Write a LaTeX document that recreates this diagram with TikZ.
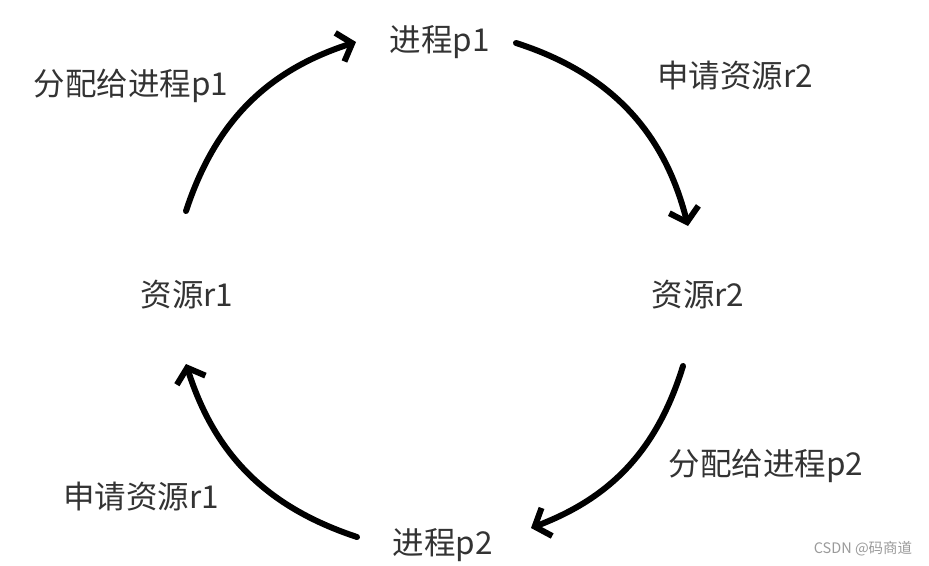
\documentclass[tikz,border=0pt]{standalone}
\usepackage{fontspec}
\usetikzlibrary{arrows.meta}
\newfontfamily\cjk{Noto Sans CJK SC}
\definecolor{txtgray}{HTML}{333333}
\definecolor{markgray}{HTML}{9A9A9A}

\begin{document}
\begin{tikzpicture}[x=1pt, y=-1pt,
    lnode/.style={text=txtgray, font=\cjk\fontsize{31.5}{32}\selectfont, inner sep=0pt},
    wnode/.style={text=markgray, font=\cjk\fontsize{14.5}{15}\selectfont, inner sep=0pt},
    arr/.style={line width=6pt, line cap=round, line join=round, -{Straight Barb[length=13pt,width=30pt]}}]
    \useasboundingbox (0,0) rectangle (929,565);

    \node[lnode] (p1) at (440, 42) {进程p1};
    \node[lnode] (r2) at (698, 295) {资源r2};
    \node[lnode] (p2) at (443, 545) {进程p2};
    \node[lnode] (r1) at (187, 295) {资源r1};

    \node[lnode] (askr2) at (735, 76) {申请资源r2};
    \node[lnode] (givep2) at (766, 466) {分配给进程p2};
    \node[lnode] (askr1) at (141, 497) {申请资源r1};
    \node[lnode] (givep1) at (131, 86) {分配给进程p1};
    \node[wnode] (mark) at (863, 549) {CSDN @码商道};

    \coordinate (r1out) at (186, 211);
    \coordinate (p1in) at (356, 42);
    \coordinate (p1out) at (516, 43);
    \coordinate (r2in) at (688, 226);
    \coordinate (r2out) at (683, 366);
    \coordinate (p2in) at (531, 528);
    \coordinate (p2out) at (357, 537);
    \coordinate (r1in) at (186, 364);

    \draw[arr] (r1out) to[bend left=27] (p1in);
    \draw[arr] (p1out) to[bend left=29] (r2in);
    \draw[arr] (r2out) to[bend left=26] (p2in);
    \draw[arr] (p2out) to[bend left=27] (r1in);

\end{tikzpicture}
\end{document}
